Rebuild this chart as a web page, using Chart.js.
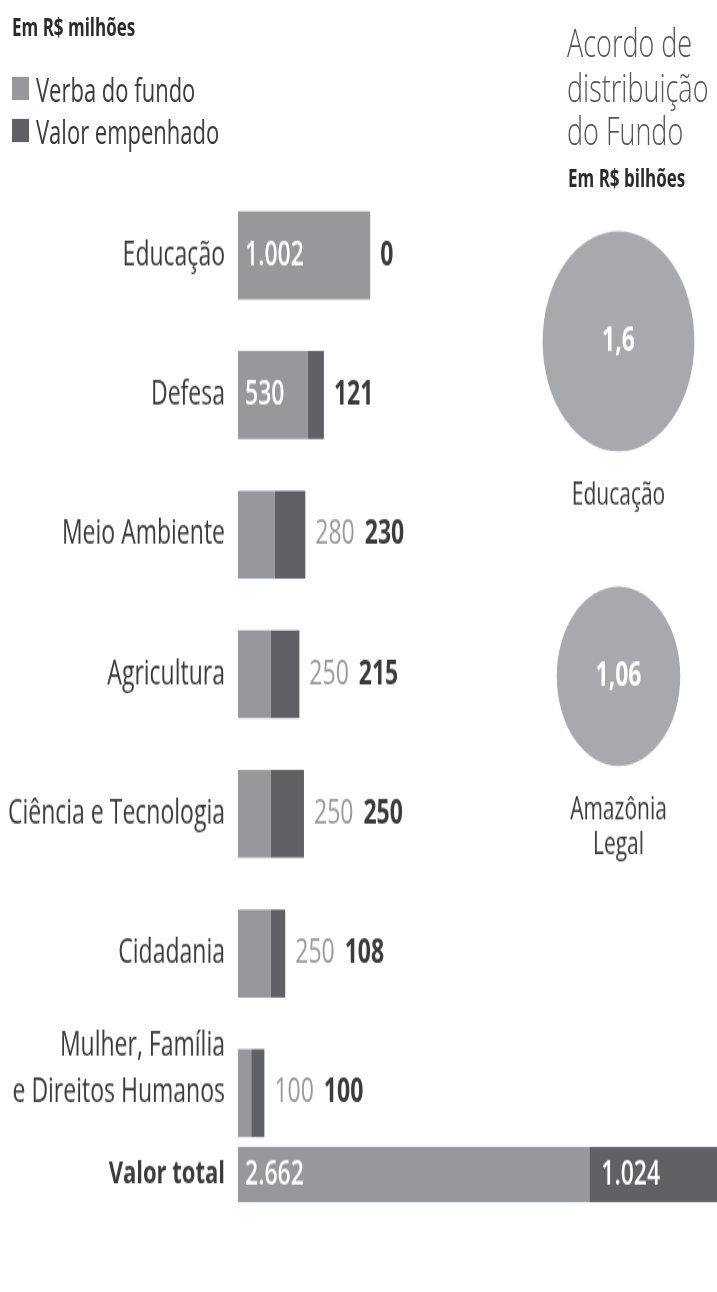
<!DOCTYPE html>
<html lang="pt-BR">
<head>
<meta charset="utf-8">
<title>Fundo - verba e valor empenhado</title>
<script src="https://cdn.jsdelivr.net/npm/chart.js@4.4.1/dist/chart.umd.min.js"></script>
<style>
  html, body { margin: 0; padding: 0; background: #fff; }
  body { width: 717px; height: 1292px; overflow: hidden; font-family: "Open Sans", sans-serif; color: #3b3b3b; }
  /* the reference is stretched vertically, so the whole page is drawn flat and scaled */
  #page { position: absolute; left: 0; top: 0; width: 717px; height: 891px; transform: scaleY(1.45); transform-origin: 0 0; }
  .abs { position: absolute; }
  .unit { font-weight: 700; font-size: 17px; line-height: 20px; color: #2b2b2b; }
  .leg { left: 12px; height: 28px; display: flex; align-items: center; font-size: 22px; color: #3b3b3b; }
  .leg i { display: inline-block; width: 17px; height: 16px; margin-right: 7px; }
  #title { left: 567px; top: 14px; font-size: 27px; font-weight: 300; line-height: 30.5px; color: #555; white-space: nowrap; }
  canvas { position: absolute; }
</style>
</head>
<body>
<div id="page">
  <div class="abs unit" style="left:12px; top:9px;">Em R$ milhões</div>
  <div class="abs leg" style="top:47px;"><i style="background:#97989b"></i>Verba do fundo</div>
  <div class="abs leg" style="top:76px;"><i style="background:#606165"></i>Valor empenhado</div>

  <div id="title" class="abs">Acordo de<br>distribuição<br>do Fundo</div>
  <div class="abs unit" style="left:568px; top:113px;">Em R$ bilhões</div>

  <canvas id="bars" width="717" height="674" style="left:0; top:128px; width:717px; height:674px;"></canvas>
  <canvas id="total" width="717" height="44" style="left:0; top:788px; width:717px; height:44px;"></canvas>
  <canvas id="bubbles" width="197" height="508" style="left:520px; top:120px; width:197px; height:508px;"></canvas>
</div>

<script>
// Em R$ milhões
const categories = [
  "Educação",
  "Defesa",
  "Meio Ambiente",
  "Agricultura",
  "Ciência e Tecnologia",
  "Cidadania",
  ["Mulher, Família", "e Direitos Humanos", ""]  // empty line lifts the two-line label a little
];
const verba = [1002, 530, 280, 250, 250, 250, 100];
const empenhado = [0, 121, 230, 215, 250, 108, 100];

const totalLabel = ["Valor total"];
const totalVerba = [2662];
const totalEmpenhado = [1024];

// Em R$ bilhões
const bubbleNames = [["Educação"], ["Amazônia", "Legal"]];
const bubbleValues = [1.6, 1.06];

const LIGHT = "#97989b";
const DARK = "#606165";
const X_MAX = 3630; // same scale for both bar charts (1.002 -> ~132px)

Chart.defaults.font.family = '"Open Sans", sans-serif';
Chart.defaults.color = "#3b3b3b";

function fmtBR(n) {
  return String(n).replace(/\B(?=(\d{3})+(?!\d))/g, ".");
}

// numbers next to / inside the bars
const valueLabels = {
  id: "valueLabels",
  afterDatasetsDraw(chart, args, opts) {
    const ctx = chart.ctx;
    const m0 = chart.getDatasetMeta(0);
    const m1 = chart.getDatasetMeta(1);
    const d0 = chart.data.datasets[0].data;
    const d1 = chart.data.datasets[1].data;
    ctx.save();
    ctx.textBaseline = "middle";
    ctx.textAlign = "left";
    m0.data.forEach((bar, i) => {
      const y = bar.y;
      const b1 = m1.data[i];
      if (opts.inside) {
        ctx.font = '600 23px "Open Sans"';
        ctx.fillStyle = "#fff";
        ctx.fillText(fmtBR(d0[i]), bar.base + 7, y);
        ctx.fillText(fmtBR(d1[i]), b1.base + 12, y);
        return;
      }
      let x = Math.max(bar.x, b1.x) + 10;
      if (bar.x - bar.base > 60) {
        ctx.font = '600 23px "Open Sans"';
        ctx.fillStyle = "#fff";
        ctx.fillText(fmtBR(d0[i]), bar.base + 7, y);
      } else {
        ctx.font = '400 23px "Open Sans"';
        ctx.fillStyle = "#9a9a9a";
        ctx.fillText(fmtBR(d0[i]), x, y);
        x += ctx.measureText(fmtBR(d0[i])).width + 10;
      }
      ctx.font = '700 23px "Open Sans"';
      ctx.fillStyle = "#3b3b3b";
      ctx.fillText(fmtBR(d1[i]), x, y);
    });
    ctx.restore();
  }
};

function barOptions(tickFont, inside) {
  return {
    indexAxis: "y",
    responsive: false,
    animation: false,
    events: [],
    layout: { padding: 0, autoPadding: false },
    plugins: {
      legend: { display: false },
      tooltip: { enabled: false },
      valueLabels: { inside: inside }
    },
    scales: {
      x: { stacked: true, display: false, min: 0, max: X_MAX },
      y: {
        stacked: true,
        grid: { display: false, drawTicks: false },
        border: { display: false },
        ticks: { padding: 13, autoSkip: false, color: "#3b3b3b", font: tickFont },
        afterFit(scale) {
          // labels sit beside the bars, so keep the full height for the bands
          scale.width = 238;
          scale.paddingTop = 0;
          scale.paddingBottom = 0;
        }
      }
    }
  };
}

new Chart(document.getElementById("bars"), {
  type: "bar",
  data: {
    labels: categories,
    datasets: [
      { label: "Verba do fundo", data: verba, backgroundColor: LIGHT, categoryPercentage: 1, barPercentage: 0.63 },
      { label: "Valor empenhado", data: empenhado, backgroundColor: DARK, categoryPercentage: 1, barPercentage: 0.63 }
    ]
  },
  options: barOptions({ size: 23, lineHeight: 1.4 }, false),
  plugins: [valueLabels]
});

new Chart(document.getElementById("total"), {
  type: "bar",
  data: {
    labels: totalLabel,
    datasets: [
      { label: "Verba do fundo", data: totalVerba, backgroundColor: LIGHT, categoryPercentage: 1, barPercentage: 0.864 },
      { label: "Valor empenhado", data: totalEmpenhado, backgroundColor: DARK, categoryPercentage: 1, barPercentage: 0.864 }
    ]
  },
  options: barOptions({ size: 22, weight: "bold" }, true),
  plugins: [valueLabels]
});

// circle area proportional to the value
const R_PER_SQRT = 60;
const bubbleLabels = {
  id: "bubbleLabels",
  afterDatasetsDraw(chart) {
    const ctx = chart.ctx;
    ctx.save();
    ctx.textAlign = "center";
    ctx.textBaseline = "middle";
    chart.getDatasetMeta(0).data.forEach((pt, i) => {
      ctx.font = '700 23px "Open Sans"';
      ctx.fillStyle = "#fff";
      ctx.fillText(String(bubbleValues[i]).replace(".", ","), pt.x, pt.y);
      ctx.font = '400 21px "Open Sans"';
      ctx.fillStyle = "#3b3b3b";
      bubbleNames[i].forEach((line, j) => {
        ctx.fillText(line, pt.x, pt.y + pt.options.radius + 31 + j * 24);
      });
    });
    ctx.restore();
  }
};

new Chart(document.getElementById("bubbles"), {
  type: "bubble",
  data: {
    datasets: [{
      data: bubbleValues.map((v, i) => ({ x: 0, y: i, r: R_PER_SQRT * Math.sqrt(v) })),
      backgroundColor: "#a8a9ac",
      borderWidth: 0,
      clip: false
    }]
  },
  options: {
    responsive: false,
    animation: false,
    events: [],
    layout: { padding: 0, autoPadding: false },
    plugins: { legend: { display: false }, tooltip: { enabled: false } },
    scales: {
      x: { display: false, min: -1, max: 1 },
      // 508px canvas -> 231px per row, first circle centred 115px from the top
      y: { display: false, min: -0.5, max: 1.7, reverse: true }
    }
  },
  plugins: [bubbleLabels]
});
</script>
</body>
</html>
